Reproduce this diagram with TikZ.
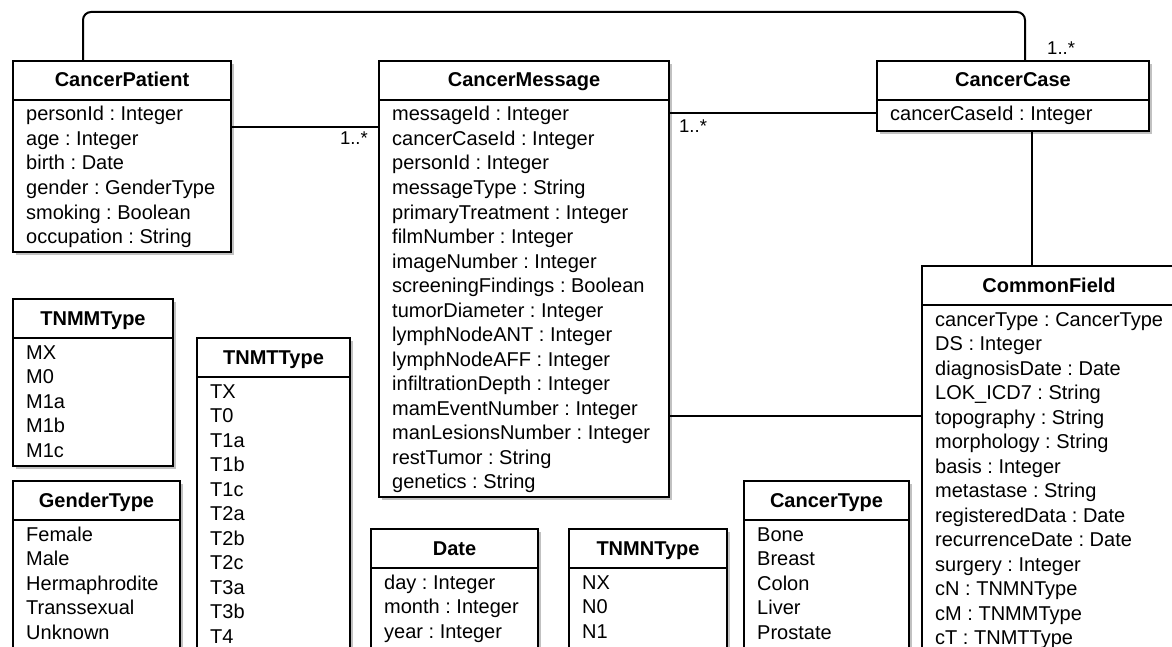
\documentclass[tikz,border=0pt]{standalone}
\usepackage{fontspec}
\setmainfont{Liberation Sans}
\usetikzlibrary{calc,shadows}
\frenchspacing

% one UML class: name, north west corner, width, height, title, attributes
\newcommand\umlclass[6]{%
  \node[classbox,minimum width=#3,minimum height=#4] (#1) at #2 {};
  \node[classtitle] (#1-title) at ($(#1.north)+(0,27)$) {#5};
  \draw[classsep] ($(#1.north west)+(0,40)$) -- ($(#1.north east)+(0,40)$);
  \foreach \a [count=\i] in {#6}
    \node[attr] (#1-\i) at ($(#1.north west)+(14,61)+(0,{(\i-1)*24.5})$) {\a};
}

\begin{document}
\begin{tikzpicture}[x=1pt,y=-1pt,font=\fontsize{20}{24.5}\selectfont,
  classbox/.style={draw,line width=2pt,fill=white,anchor=north west,inner sep=0pt,
    drop shadow={shadow xshift=3pt,shadow yshift=-3pt,opacity=.35,fill=black!70}},
  classtitle/.style={anchor=base,inner sep=0pt,font=\fontsize{20}{24.5}\selectfont\bfseries},
  classsep/.style={line width=1.2pt},
  attr/.style={anchor=base west,inner sep=0pt},
  assoc/.style={line width=2pt},
  mult/.style={inner sep=0pt,font=\fontsize{18.5}{20}\selectfont}]
  \useasboundingbox (0,0) rectangle (1172,647);
  \clip (0,0) rectangle (1172,647);

  \umlclass{patient}{(12,60)}{218}{190.5}{CancerPatient}{personId : Integer,age : Integer,
    birth : Date,gender : GenderType,smoking : Boolean,occupation : String}
  \umlclass{message}{(378,60)}{290}{435.5}{CancerMessage}{messageId : Integer,
    cancerCaseId : Integer,personId : Integer,messageType : String,
    primaryTreatment : Integer,filmNumber : Integer,imageNumber : Integer,
    screeningFindings : Boolean,tumorDiameter : Integer,lymphNodeANT : Integer,
    lymphNodeAFF : Integer,infiltrationDepth : Integer,mamEventNumber : Integer,
    manLesionsNumber : Integer,restTumor : String,genetics : String}
  \umlclass{case}{(876,60)}{272}{70}{CancerCase}{cancerCaseId : Integer}
  \umlclass{common}{(921,265)}{254}{400}{CommonField}{cancerType : CancerType,
    DS : Integer,diagnosisDate : Date,LOK\_ICD7 : String,topography : String,
    morphology : String,basis : Integer,metastase : String,registeredData : Date,
    recurrenceDate : Date,surgery : Integer,cN : TNMNType,cM : TNMMType,cT : TNMTType}
  \umlclass{mtype}{(12,298)}{160}{167}{TNMMType}{MX,M0,M1a,M1b,M1c}
  \umlclass{gender}{(12,480)}{167}{200}{GenderType}{Female,Male,Hermaphrodite,
    Transsexual,Unknown}
  \umlclass{ttype}{(196,337)}{153}{350}{TNMTType}{TX,T0,T1a,T1b,T1c,T2a,T2b,T2c,
    T3a,T3b,T4}
  \umlclass{date}{(370,528)}{167}{200}{Date}{day : Integer,month : Integer,year : Integer}
  \umlclass{ntype}{(568,528)}{158}{200}{TNMNType}{NX,N0,N1}
  \umlclass{ctype}{(743,480)}{165}{200}{CancerType}{Bone,Breast,Colon,Liver,Prostate}

  % associations
  \coordinate (pm) at ($(patient.north east)+(0,67)$);
  \coordinate (mc) at ($(message.north east)+(0,53)$);
  \coordinate (mf) at ($(message.north east)+(0,356)$);
  \coordinate (cc) at ($(case.south west)+(156,0)$);
  \coordinate (lp) at ($(patient.north west)+(71,0)$);
  \coordinate (lc) at ($(case.north west)+(149,0)$);
  \draw[assoc] (pm) -- (pm -| message.west);
  \draw[assoc] (mc) -- (mc -| case.west);
  \draw[assoc] (mf) -- (mf -| common.west);
  \draw[assoc] (cc) -- (cc |- common.north);
  \draw[assoc,rounded corners=8pt] (lp) -- ++(0,-48) -| (lc);

  \node[mult,anchor=base east] (pmm) at ($(pm -| message.west)+(-10,18)$) {1..*};
  \node[mult,anchor=base west] (mcm) at ($(mc)+(9,20)$) {1..*};
  \node[mult,anchor=base west] (lcm) at ($(lc)+(22,-5)$) {1..*};
\end{tikzpicture}
\end{document}
